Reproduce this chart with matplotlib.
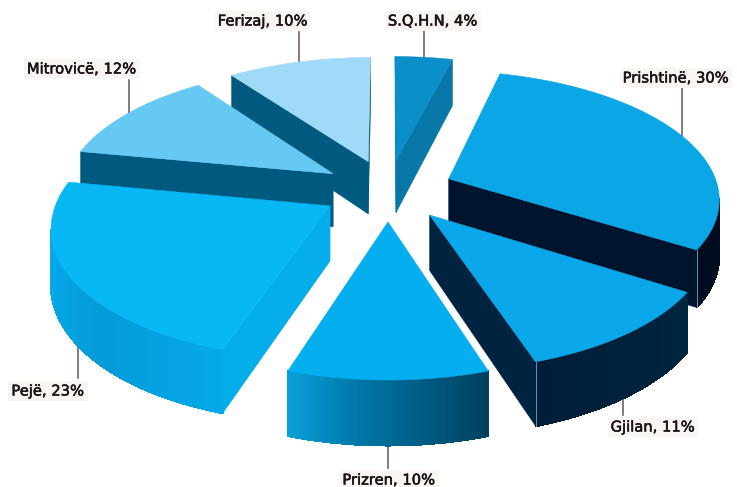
import numpy as np
import matplotlib
matplotlib.use("Agg")
import matplotlib.pyplot as plt
import matplotlib.patheffects as pe
from matplotlib.colors import LinearSegmentedColormap
from matplotlib.patches import Polygon

# ---------- DATA ----------
names = ["S.Q.H.N", "Prishtinë", "Gjilan", "Prizren", "Pejë", "Mitrovicë", "Ferizaj"]
shares = [4, 30, 11, 10, 23, 12, 10]

top_colors = ["#0a8fc8", "#0aa6e6", "#0aa8ea", "#05aeef", "#08b8f5", "#66c9f4", "#9fdbf8"]
cut_colors = ["#0878a8", "#00142e", "#00233f", "#0090c8", "#05aeea", "#005a80", "#00597f"]
rim_colors = [
    ["#0878a8", "#0878a8"],
    ["#00142e", "#000c20"],
    ["#00263f", "#001d38"],
    ["#00405f", "#005c85", "#0078a8", "#0a9fd8"],
    ["#05a8e8", "#059ad8", "#05a8e8", "#05b0ef"],
    ["#005a80", "#005a80"],
    ["#00597f", "#00597f"],
]
corner_colors = [None, "#4f9fc4", "#4f9fc4", None, None, None, None]

# label centre x, label y, leader x
label_x = [433, 676, 653, 389, 48, 82, 263]
label_y = [21, 78, 427, 480, 391, 69, 21]
leader_x = [424, 682, 623, 388, 78, 129, 299]
leader_start = [31, 88, 415, 468, 378, 80, 32]
leader_end = [70, 150, 390, 430, 325, 125, 75]

# ---------- PROJECTION ----------
CX, CY = 388, 190
R, RT = 270, 126
PERSP = 0.14
EXPLODE = 0.245
DEPTH = 54


def project(u, v, down=False):
    p = 1 / (1 + PERSP * v)
    x = CX + R * u * p
    y = CY - RT * v * p + (DEPTH * p if down else 0)
    return x, y


def area(pts):
    pts = np.array(pts)
    x, y = pts[:, 0], pts[:, 1]
    return 0.5 * np.sum(x * np.roll(y, -1) - np.roll(x, -1) * y)


fig = plt.figure(figsize=(7.37, 4.87), dpi=100)
ax = fig.add_axes([0, 0, 1, 1])
ax.set_xlim(0, 737)
ax.set_ylim(487, 0)
ax.axis("off")

edges = np.cumsum([0] + shares) / sum(shares) * 2 * np.pi
mids = (edges[:-1] + edges[1:]) / 2

# back to front
order = sorted(range(len(names)), key=lambda i: -np.cos(mids[i]))
for z, i in enumerate(order):
    au = EXPLODE * np.sin(mids[i])
    av = EXPLODE * np.cos(mids[i])
    th = np.linspace(edges[i], edges[i + 1], 80)
    us = au + np.sin(th)
    vs = av + np.cos(th)
    top = [project(a, b) for a, b in zip(us, vs)]
    bot = [project(a, b, True) for a, b in zip(us, vs)]
    apex_t = project(au, av)
    apex_b = project(au, av, True)

    # cut faces, only the ones turned to the viewer
    for k, sign in ((0, -1), (-1, 1)):
        face = [apex_t, top[k], bot[k], apex_b]
        if sign * area(face) > 0:
            ax.add_patch(Polygon(face, closed=True, fc=cut_colors[i], ec=cut_colors[i],
                                 lw=0.4, zorder=z * 4 + 1))

    # outer rim as strips, so that it can carry a gradient
    cmap = LinearSegmentedColormap.from_list(f"rim{i}", rim_colors[i])
    for k in range(len(th) - 1):
        quad = [top[k], top[k + 1], bot[k + 1], bot[k]]
        if area(quad) < 0:
            c = cmap(k / (len(th) - 2))
            ax.add_patch(Polygon(quad, closed=True, fc=c, ec=c, lw=0.9,
                                 antialiased=False, zorder=z * 4 + 2))

    if corner_colors[i]:
        ax.plot([top[-1][0], bot[-1][0]], [top[-1][1], bot[-1][1]],
                color=corner_colors[i], lw=0.7, zorder=z * 4 + 3)

    ax.add_patch(Polygon([apex_t] + top, closed=True, fc=top_colors[i], ec=top_colors[i],
                         lw=0.4, zorder=z * 4 + 4))

# ---------- LABELS ----------
for i, name in enumerate(names):
    # leaders sit behind the slices and end where the slice hides them
    ax.plot([leader_x[i], leader_x[i]], [leader_start[i], leader_end[i]],
            color="#6b5252", lw=1.1, zorder=0)
    ax.text(label_x[i], label_y[i], f"{name}, {shares[i]}%", ha="center", va="center",
            fontsize=10.6, color="#1c1414", family="DejaVu Sans", zorder=60,
            path_effects=[pe.withStroke(linewidth=0.4, foreground="#1c1414")],
            bbox=dict(boxstyle="square,pad=0.2", fc="#f9f5f3", ec="none"))

plt.savefig("out.png", dpi=100)
